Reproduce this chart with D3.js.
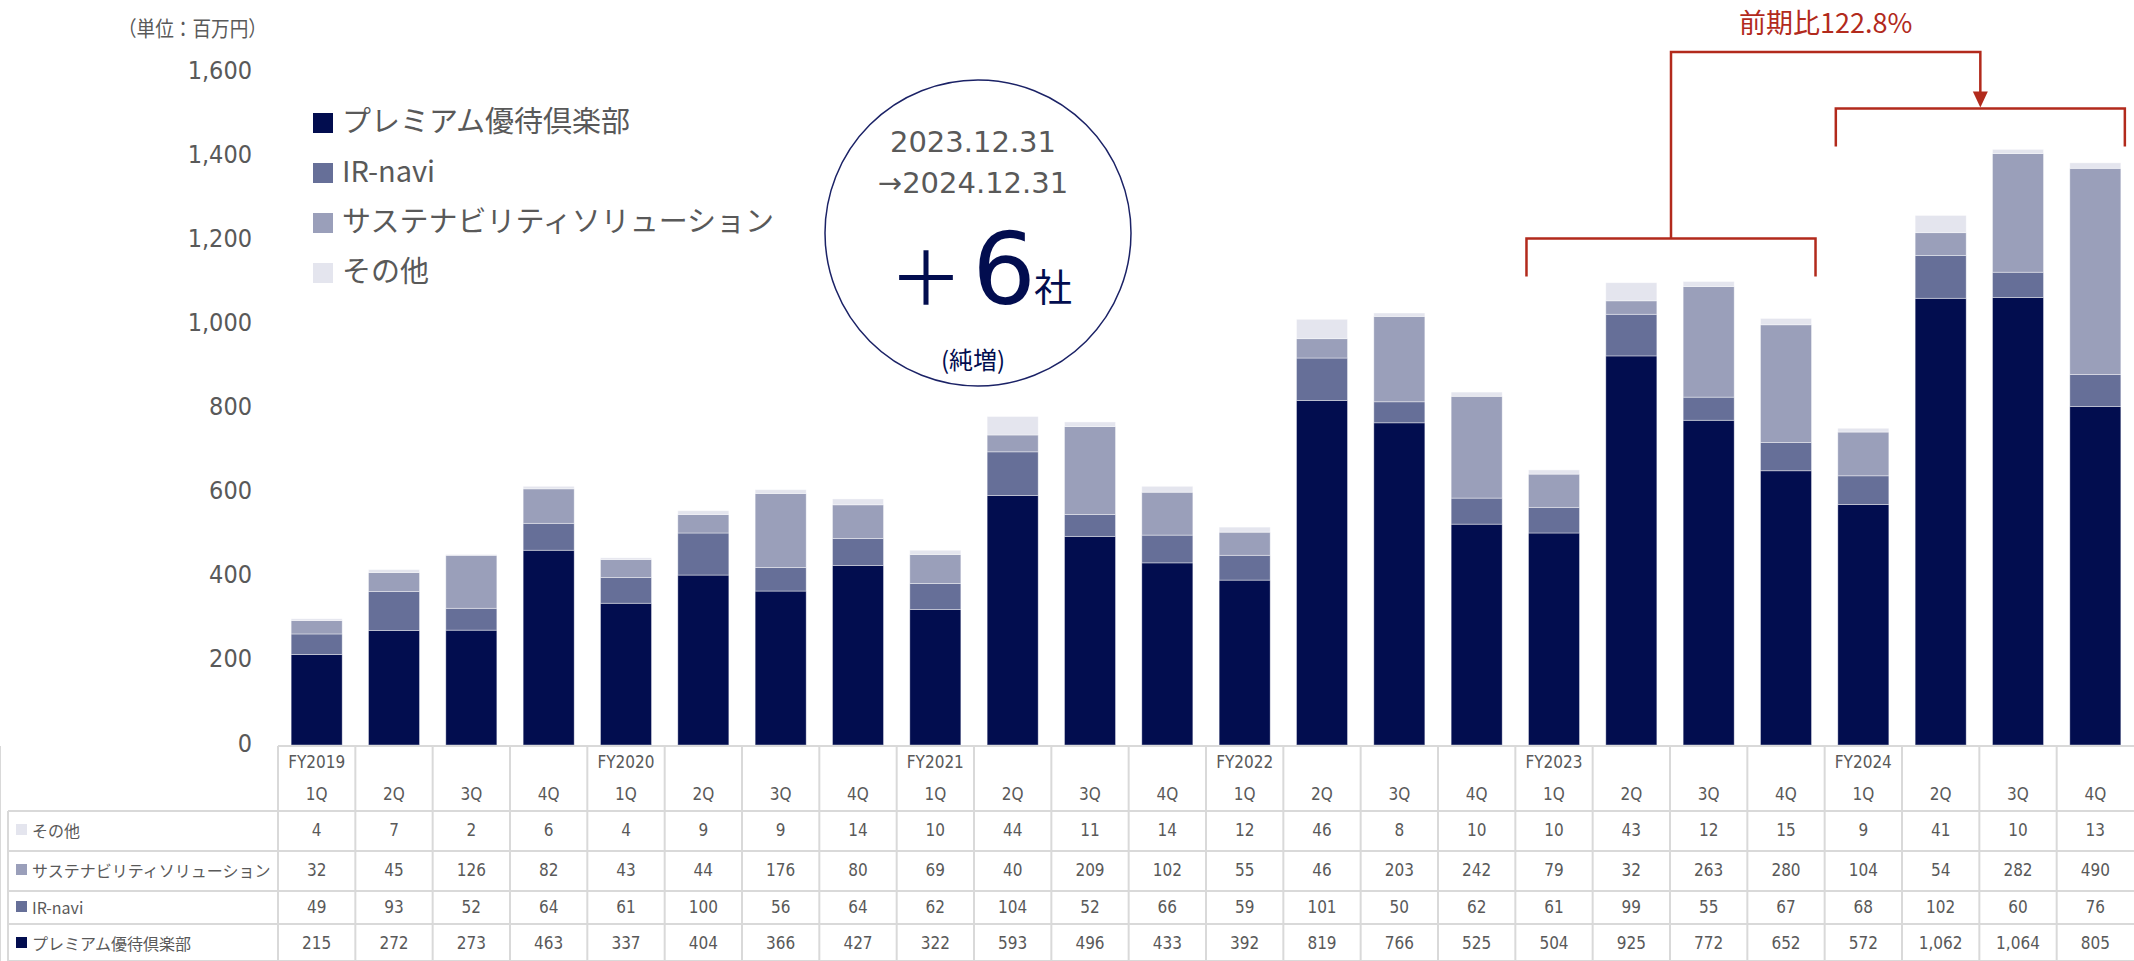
<!DOCTYPE html>
<html lang="ja">

<head>
    <meta charset="UTF-8">
    <title>売上高推移</title>
    <style>
        body {
            margin: 0;
            background: #fff;
        }

        text {
            fill: #595959;
        }

        .num {
            font-family: "DejaVu Sans Condensed", "DejaVu Sans", sans-serif;
            font-stretch: condensed;
        }

        .jp {
            font-family: "Noto Sans CJK JP", sans-serif;
        }

        .grid {
            stroke: #d9d9d9;
            stroke-width: 2;
        }

        .red {
            stroke: #b22a1c;
            stroke-width: 2.5;
            fill: none;
        }
    </style>
</head>

<body>
    <svg width="2134" height="961"></svg>
    <script src="https://d3js.org/d3.v7.min.js"></script>
    <script>
        // data (百万円)
        let fyLabels = ["FY2019", "", "", "", "FY2020", "", "", "", "FY2021", "", "", "", "FY2022", "", "", "", "FY2023", "", "", "", "FY2024", "", "", ""];
        let qLabels = ["1Q", "2Q", "3Q", "4Q", "1Q", "2Q", "3Q", "4Q", "1Q", "2Q", "3Q", "4Q", "1Q", "2Q", "3Q", "4Q", "1Q", "2Q", "3Q", "4Q", "1Q", "2Q", "3Q", "4Q"];
        let premium = [215, 272, 273, 463, 337, 404, 366, 427, 322, 593, 496, 433, 392, 819, 766, 525, 504, 925, 772, 652, 572, 1062, 1064, 805];
        let irnavi = [49, 93, 52, 64, 61, 100, 56, 64, 62, 104, 52, 66, 59, 101, 50, 62, 61, 99, 55, 67, 68, 102, 60, 76];
        let sustain = [32, 45, 126, 82, 43, 44, 176, 80, 69, 40, 209, 102, 55, 46, 203, 242, 79, 32, 263, 280, 104, 54, 282, 490];
        let other = [4, 7, 2, 6, 4, 9, 9, 14, 10, 44, 11, 14, 12, 46, 8, 10, 10, 43, 12, 15, 9, 41, 10, 13];
        let yTicks = [0, 200, 400, 600, 800, 1000, 1200, 1400, 1600];

        let series = [
            { key: "premium", name: "プレミアム優待倶楽部", color: "#020d4f", values: premium },
            { key: "irnavi", name: "IR-navi", color: "#666f98", values: irnavi },
            { key: "sustain", name: "サステナビリティソリューション", color: "#9a9fba", values: sustain },
            { key: "other", name: "その他", color: "#e4e5ee", values: other }
        ];

        let svg = d3.select("svg");

        let table = qLabels.map((q, i) => {
            let row = { i: i };
            series.forEach(s => row[s.key] = s.values[i]);
            return row;
        });

        let x = d3.scaleBand()
            .domain(d3.range(qLabels.length))
            .range([278, 2134])
            .paddingInner(0.34)
            .paddingOuter(0.17);

        let y = d3.scaleLinear()
            .domain([0, 1600])
            .range([745, 72]);

        let step = x.step();
        let colLeft = i => x(i) - step * 0.17;
        let fmt = d3.format(",");

        // unit
        svg.append("text")
            .attr("class", "jp")
            .attr("x", 118).attr("y", 27)
            .attr("dominant-baseline", "central")
            .attr("textLength", 149)
            .attr("lengthAdjust", "spacingAndGlyphs")
            .style("font-size", "21px")
            .text("（単位：百万円）");

        // y axis (labels only)
        let yAxis = svg.append("g")
            .attr("class", "num")
            .attr("transform", "translate(252,0)")
            .call(d3.axisLeft(y).tickValues(yTicks).tickSize(0).tickPadding(0).tickFormat(fmt));
        yAxis.select(".domain").remove();
        yAxis.selectAll("text")
            .attr("dy", "0.32em")
            .attr("y", -2)
            .style("font-size", "25px")
            .style("fill", "#595959");

        // stacked bars
        let stack = d3.stack().keys(series.map(s => s.key));
        let layers = stack(table);

        svg.append("g")
            .selectAll("g")
            .data(layers)
            .join("g")
            .attr("fill", (d, k) => series[k].color)
            .selectAll("rect")
            .data(d => d)
            .join("rect")
            .attr("x", d => x(d.data.i))
            .attr("width", x.bandwidth())
            .attr("y", d => y(d[1]))
            .attr("height", d => y(d[0]) - y(d[1]))
            .attr("stroke", "#ffffff")
            .attr("stroke-opacity", 0.5)
            .attr("stroke-width", 0.8);

        // legend
        let legend = svg.append("g").attr("class", "jp");
        let legY = [123, 173, 223, 273];
        series.forEach((s, k) => {
            legend.append("rect")
                .attr("x", 313).attr("y", legY[k] - 10)
                .attr("width", 20).attr("height", 20)
                .attr("fill", s.color);
            legend.append("text")
                .attr("x", 342).attr("y", legY[k] - 4)
                .attr("dominant-baseline", "central")
                .style("font-size", "29px")
                .text(s.name);
        });

        // circle note
        let note = svg.append("g");
        note.append("circle")
            .attr("cx", 978).attr("cy", 233).attr("r", 153)
            .attr("fill", "none")
            .attr("stroke", "#1b2266")
            .attr("stroke-width", 1.5);
        note.append("text")
            .attr("x", 973).attr("y", 142)
            .attr("text-anchor", "middle").attr("dominant-baseline", "central")
            .style("font-family", "'DejaVu Sans', sans-serif")
            .style("font-size", "29px")
            .text("2023.12.31");
        note.append("text")
            .attr("x", 973).attr("y", 183)
            .attr("text-anchor", "middle").attr("dominant-baseline", "central")
            .style("font-family", "'DejaVu Sans', sans-serif")
            .style("font-size", "29px")
            .text("→2024.12.31");
        note.append("text")
            .attr("x", 926).attr("y", 272)
            .attr("text-anchor", "middle").attr("dominant-baseline", "central")
            .style("font-family", "'Noto Sans CJK JP', sans-serif")
            .style("font-size", "74px")
            .style("fill", "#020d4f")
            .text("＋");
        note.append("text")
            .attr("x", 1004).attr("y", 304)
            .attr("text-anchor", "middle")
            .style("font-family", "'DejaVu Sans', sans-serif")
            .style("font-size", "100px")
            .style("fill", "#020d4f")
            .text("6");
        note.append("text")
            .attr("x", 1053).attr("y", 301)
            .attr("text-anchor", "middle")
            .style("font-family", "'Noto Sans CJK JP', sans-serif")
            .style("font-size", "38px")
            .style("fill", "#020d4f")
            .text("社");
        note.append("text")
            .attr("x", 973).attr("y", 358)
            .attr("text-anchor", "middle").attr("dominant-baseline", "central")
            .style("font-family", "'Noto Sans CJK JP', sans-serif")
            .style("font-size", "24px")
            .style("fill", "#020d4f")
            .text("(純増)");

        // growth annotation
        let total = i => series.reduce((a, s) => a + s.values[i], 0);
        let bracket = function (from, to, gap, rise) {
            let x0 = x(from) - 2, x1 = x(to) + x.bandwidth() + 4;
            let top = d3.min(d3.range(from, to + 1), i => y(total(i)));
            let legEnd = top - gap, yy = legEnd - rise;
            svg.append("path")
                .attr("class", "red")
                .attr("d", `M${x0},${legEnd}V${yy}H${x1}V${legEnd}`);
            return { mid: (x0 + x1) / 2, y: yy };
        };
        let b23 = bracket(16, 19, 5, 38);
        let b24 = bracket(20, 23, 3, 38);
        let topY = 52;
        svg.append("path")
            .attr("class", "red")
            .attr("d", `M${b23.mid},${b23.y}V${topY}H${b24.mid}V${b24.y - 16}`);
        svg.append("path")
            .attr("fill", "#b22a1c")
            .attr("d", `M${b24.mid - 7.5},${b24.y - 17}H${b24.mid + 7.5}L${b24.mid},${b24.y - 1}Z`);
        svg.append("text")
            .attr("class", "jp")
            .attr("x", (b23.mid + b24.mid) / 2).attr("y", 21)
            .attr("text-anchor", "middle").attr("dominant-baseline", "central")
            .style("font-size", "27px")
            .style("fill", "#b22a1c")
            .text("前期比122.8%");

        // data table
        let tbl = svg.append("g");
        let rowLines = [811, 851, 891, 924, 961];
        let rowMid = [830, 870, 907, 943];
        let tableRows = [series[3], series[2], series[1], series[0]];
        let right = 2134;

        tbl.append("line").attr("class", "grid")
            .attr("x1", colLeft(0)).attr("x2", right).attr("y1", 746).attr("y2", 746);
        rowLines.forEach(ly => tbl.append("line").attr("class", "grid")
            .attr("x1", 8).attr("x2", right).attr("y1", ly).attr("y2", ly));
        tbl.append("line").attr("class", "grid")
            .attr("x1", 8).attr("x2", 8).attr("y1", 811).attr("y2", 961);
        d3.range(qLabels.length + 1).forEach(i => {
            let lx = Math.min(colLeft(i), right - 1);
            tbl.append("line").attr("class", "grid")
                .attr("x1", lx).attr("x2", lx).attr("y1", 746).attr("y2", 961);
        });

        let cx = i => x(i) + x.bandwidth() / 2;
        tbl.selectAll(".fy")
            .data(fyLabels)
            .join("text")
            .attr("class", "num")
            .attr("x", (d, i) => cx(i)).attr("y", 762)
            .attr("text-anchor", "middle").attr("dominant-baseline", "central")
            .style("font-size", "17px")
            .text(d => d);
        tbl.selectAll(".q")
            .data(qLabels)
            .join("text")
            .attr("class", "num")
            .attr("x", (d, i) => cx(i)).attr("y", 794)
            .attr("text-anchor", "middle").attr("dominant-baseline", "central")
            .style("font-size", "17px")
            .text(d => d);

        tableRows.forEach((s, r) => {
            tbl.append("rect")
                .attr("x", 16).attr("y", rowMid[r] - 6)
                .attr("width", 11).attr("height", 11)
                .attr("fill", s.color);
            tbl.append("text")
                .attr("class", "jp")
                .attr("x", 32).attr("y", rowMid[r])
                .attr("dominant-baseline", "central")
                .style("font-size", "16px")
                .text(s.name);
            tbl.append("g")
                .selectAll("text")
                .data(s.values)
                .join("text")
                .attr("class", "num")
                .attr("x", (d, i) => cx(i)).attr("y", rowMid[r])
                .attr("text-anchor", "middle").attr("dominant-baseline", "central")
                .style("font-size", "17px")
                .text(d => fmt(d));
        });
    </script>

</body>

</html>
